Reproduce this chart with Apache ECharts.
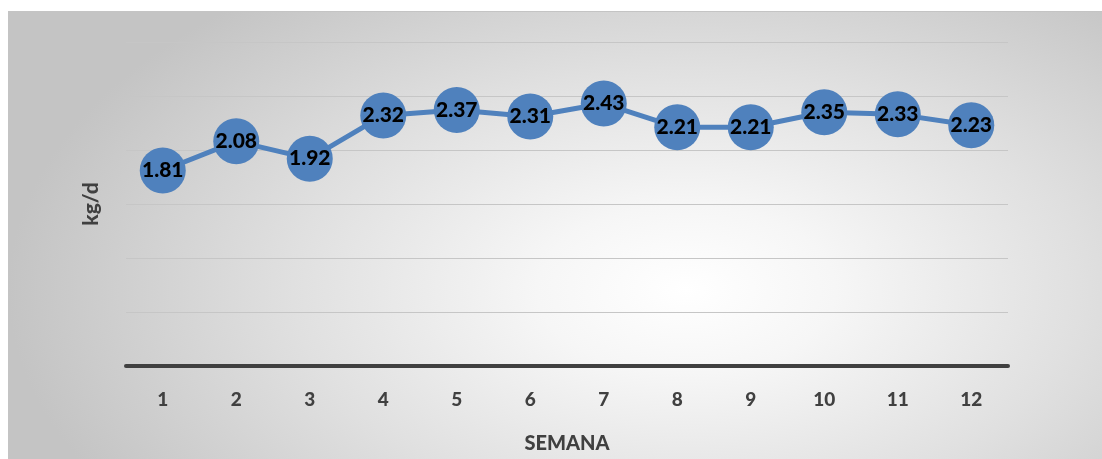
<!DOCTYPE html>
<html><head><meta charset="utf-8">
<script src="https://cdn.jsdelivr.net/npm/echarts@6/dist/echarts.min.js"></script>
<style>
html,body{margin:0;padding:0;background:#fff;width:1102px;height:459px;overflow:hidden}
#bg{position:absolute;left:8px;top:11px;width:1094px;height:448px;border-top:1px solid #c4c4c4;
background:radial-gradient(ellipse 62% 85% at 62% 62%, #ffffff 0%, #f6f6f6 22%, #e0e0e0 58%, #c4c4c4 100%);}
#chart{position:absolute;left:0;top:0;width:1102px;height:459px}
</style></head>
<body><div id="bg"></div><div id="chart"></div>
<script>
const categories = ['1','2','3','4','5','6','7','8','9','10','11','12'];
const values = [1.81, 2.08, 1.92, 2.32, 2.37, 2.31, 2.43, 2.21, 2.21, 2.35, 2.33, 2.23];
const xName = 'SEMANA';
const yName = 'kg/d';
const chart = echarts.init(document.getElementById('chart'), null, {renderer:'canvas'});
chart.setOption({
  backgroundColor:'transparent',
  animation:false,
  grid:{left:126, right:94, top:42, bottom:90, containLabel:false},
  xAxis:{type:'category', data:categories, boundaryGap:true,
    name:xName, nameLocation:'middle', nameGap:68,
    nameTextStyle:{fontFamily:'Lato', fontWeight:900, fontSize:20, color:'#404040'},
    axisLine:{lineStyle:{color:'#404040', width:4}},
    axisTick:{show:false},
    axisLabel:{fontFamily:'Lato', fontWeight:900, fontSize:19, color:'#404040', margin:24}},
  yAxis:{type:'value', min:0, max:3, interval:0.5,
    name:yName, nameLocation:'middle', nameGap:24, nameRotate:90,
    nameTextStyle:{fontFamily:'Lato', fontWeight:900, fontSize:21, color:'#404040'},
    axisLine:{show:false}, axisTick:{show:false}, axisLabel:{show:false},
    splitLine:{lineStyle:{color:'#c6c6c6', width:1}}},
  series:[{type:'line', data:values, symbol:'circle', symbolSize:46,
    lineStyle:{color:'#4f81bd', width:5},
    itemStyle:{color:'#4f81bd'},
    label:{show:true, position:'inside', formatter:p=>p.value.toFixed(2),
      fontFamily:'Lato', fontWeight:900, fontSize:21, color:'#000'}}]
});
</script></body></html>
